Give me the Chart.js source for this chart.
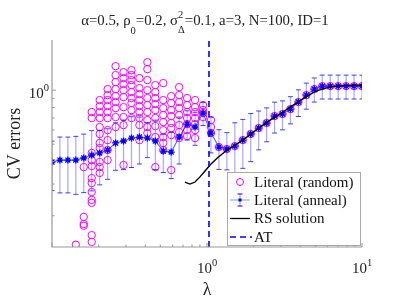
<!DOCTYPE html>
<html><head><meta charset="utf-8">
<script src="https://cdn.jsdelivr.net/npm/chart.js@4.4.1/dist/chart.umd.min.js"></script>
<style>html,body{margin:0;padding:0;background:#fff}#wrap{width:399px;height:299px}</style>
</head><body><div id="wrap"><canvas id="c" width="399" height="299"></canvas></div>
<script>
// ---- data ----
const lambdas = [0.1,0.1125,0.1266,0.1425,0.1603,0.1804,0.2031,0.2285,0.2572,0.2894,
  0.3257,0.3665,0.4125,0.4642,0.5223,0.5878,0.6614,0.7443,0.8376,0.9427,
  1.0608,1.1938,1.3434,1.5118,1.7013,1.9145,2.1544,2.4245,2.7283,3.0703,
  3.4551,3.8881,4.3755,4.9239,5.5410,6.2355,7.0170,7.8965,8.8862,10];
const annealMean = [0.398,0.408,0.408,0.408,0.419,0.435,0.447,0.464,0.508,0.521,
  0.541,0.548,0.541,0.521,0.458,0.452,0.548,0.647,0.623,0.745,
  0.577,0.482,0.470,0.488,0.527,0.570,0.615,0.656,0.717,0.736,
  0.784,0.858,0.938,1.013,1.052,1.052,1.052,1.052,1.052,1.052];
const annealStd = [0.122,0.14,0.14,0.145,0.15,0.16,0.15,0.145,0.15,0.16,
  0.17,0.16,0.12,0.16,0.11,0.13,0.16,0.12,0.13,0.11,
  0.13,0.12,0.11,0.17,0.16,0.17,0.15,0.14,0.14,0.135,
  0.135,0.145,0.155,0.155,0.16,0.16,0.16,0.16,0.16,0.16];
const randomTrials = [
  [],[],[],[0.138],
  [0.373,0.197,0.180,0.176],
  [0.755,0.699,0.447,0.408,0.378,0.324,0.304,0.271,0.245,0.236,0.156,0.143],
  [0.880,0.815,0.755,0.699,0.623,0.570,0.508,0.476,0.398,0.373,0.346],
  [1.013,0.938,0.880,0.815,0.755,0.699,0.599,0.527,0.464,0.408],
  [1.359,1.212,1.108,1.013,0.926,0.858,0.794,0.708,0.623],
  [1.259,1.166,1.080,1.0,0.914,0.804,0.708,0.639,0.383],
  [1.291,1.212,1.137,1.066,0.975,0.903,0.847,0.774,0.699],
  [1.166,1.026,0.950,0.880,0.815,0.755,0.699,0.639,0.527],
  [1.430,1.308,1.137,1.0,0.903,0.825,0.755,0.681,0.623,0.577],
  [1.066,0.975,0.903,0.836,0.774,0.699,0.631,0.548,0.373],
  [1.094,0.880,0.794,0.726,0.664,0.599,0.548,0.508,0.464],
  [0.926,0.847,0.774,0.717,0.656,0.615,0.562,0.359],
  [1.039,0.938,0.858,0.794,0.726,0.639,0.584,0.541],
  [0.903,0.825,0.755,0.699,0.647,0.599,0.555],
  [0.880,0.804,0.755,0.699,0.647,0.599,0.541],
  [0.825,0.774,0.745,0.708],
  [0.681,0.623,0.577],
  [0.482],[0.470],[0.488],[0.527],[0.570],[0.615],[0.656],[0.717],[0.736],
  [0.784],[0.858],[0.938],[1.013],[1.052],[1.052],[1.052],[1.052],[1.052],[1.052]
];
const rsLambda = [0.72,0.777,0.837,0.901,0.971,1.046,1.16,1.346,1.516,1.706,1.919,2.165,2.44,2.75,3.09,3.43,3.86,4.34,4.89,5.50,6.20,6.99,7.87,8.86,10];
const rsValue  = [0.308,0.300,0.308,0.329,0.355,0.383,0.418,0.464,0.495,0.527,0.570,0.615,0.664,0.708,0.755,0.804,0.858,0.914,0.975,1.013,1.039,1.052,1.059,1.066,1.066];
const atLambda = 1.03;
const seriesLabels = ['Literal (random)','Literal (anneal)','RS solution','AT'];
const xTickLabels = [{v:1,base:'10',exp:'0'},{v:10,base:'10',exp:'1'}];
const yTickLabels = [{v:1,base:'10',exp:'0'}];
const titleParts = ['α=0.5, ρ','0','=0.2, σ','2','Δ','=0.1, a=3, N=100, ID=1'];
const xTitle = 'λ', yTitle = 'CV errors';
const XMIN=0.1, XMAX=10, YMIN=0.134, YMAX=1.9;

// ---- build datasets ----
const randomPts = [];
randomTrials.forEach((arr,i)=>arr.forEach(v=>randomPts.push({x:lambdas[i],y:v})));
const annealPts = lambdas.map((x,i)=>({x, y:annealMean[i]}));
const rsPts = rsLambda.map((x,i)=>({x, y:rsValue[i]}));

const SERIF = '"Liberation Serif","Times New Roman",serif';
const F = px => px+'px '+SERIF;
const AX = '#9a9a9a';

function richW(ctx,segs){let w=0;for(const s of segs){ctx.font=F(s.size);const m=ctx.measureText(s.t).width;if(s.adv!==false)w+=m;}return w;}
function richDraw(ctx,segs,x,y){let cx=x;for(const s of segs){ctx.font=F(s.size);ctx.fillText(s.t,cx,y+(s.dy||0));if(s.adv!==false)cx+=ctx.measureText(s.t).width;}}

const decor = {
  id:'decor',
  beforeDatasetDraw(chart,args){
    if(args.index!==1) return;
    const ctx=chart.ctx, xs=chart.scales.x, ys=chart.scales.y, a=chart.chartArea;
    ctx.save();
    ctx.beginPath(); ctx.rect(a.left,a.top,a.right-a.left,a.bottom-a.top); ctx.clip();
    lambdas.forEach((l,i)=>{
      const px=xs.getPixelForValue(l);
      const hi=annealMean[i]+annealStd[i], lo=Math.max(annealMean[i]-annealStd[i],1e-3);
      const yt=ys.getPixelForValue(hi), yb=ys.getPixelForValue(lo);
      ctx.strokeStyle='rgba(60,60,255,0.45)'; ctx.lineWidth=1.2;
      ctx.beginPath(); ctx.moveTo(px,yt); ctx.lineTo(px,yb); ctx.stroke();
      ctx.strokeStyle='rgba(0,0,255,0.75)'; ctx.lineWidth=1;
      ctx.beginPath(); ctx.moveTo(px-2.5,yt); ctx.lineTo(px+2.5,yt);
      ctx.moveTo(px-2.5,yb); ctx.lineTo(px+2.5,yb); ctx.stroke();
    });
    ctx.restore();
  },
  afterDraw(chart){
    const ctx=chart.ctx, xs=chart.scales.x, ys=chart.scales.y, a=chart.chartArea;
    ctx.save();
    // axes
    ctx.strokeStyle=AX; ctx.lineWidth=1.2;
    ctx.beginPath(); ctx.moveTo(a.left,a.top); ctx.lineTo(a.left,a.bottom); ctx.lineTo(a.right,a.bottom); ctx.stroke();
    ctx.lineWidth=1;
    ctx.beginPath();
    for(let d=-1; d<=1; d++){
      for(let m=1;m<=9;m++){
        const v=m*Math.pow(10,d);
        if(v>=XMIN-1e-9 && v<=XMAX+1e-9){const px=xs.getPixelForValue(v);const L=m===1?4:2.5;ctx.moveTo(px,a.bottom);ctx.lineTo(px,a.bottom-L);}
        if(v>=YMIN && v<=YMAX){const py=ys.getPixelForValue(v);const L=m===1?4:2.5;ctx.moveTo(a.left,py);ctx.lineTo(a.left+L,py);}
      }
    }
    ctx.stroke();
    ctx.fillStyle='#222'; ctx.textBaseline='alphabetic';
    xTickLabels.forEach(t=>{
      const segs=[{t:t.base,size:15},{t:t.exp,size:10.5,dy:-7}];
      const w=richW(ctx,segs); const px=xs.getPixelForValue(t.v);
      richDraw(ctx,segs,px-w/2,273);
    });
    yTickLabels.forEach(t=>{
      const segs=[{t:t.base,size:15},{t:t.exp,size:10.5,dy:-7}];
      const w=richW(ctx,segs); const py=ys.getPixelForValue(t.v);
      richDraw(ctx,segs,a.left-3-w,py+8);
    });
    // axis titles
    ctx.font=F(18); ctx.textAlign='center';
    ctx.fillText(xTitle,(a.left+a.right)/2,295);
    ctx.save(); ctx.translate(20,(a.top+a.bottom)/2); ctx.rotate(-Math.PI/2);
    ctx.fillText(yTitle,0,0); ctx.restore();
    ctx.textAlign='left';
    // title
    const tsegs=[{t:titleParts[0],size:14.8},{t:titleParts[1],size:10.5,dy:9},{t:titleParts[2],size:14.8},
      {t:titleParts[3],size:10.5,dy:-7,adv:false},{t:titleParts[4],size:10.5,dy:8},{t:titleParts[5],size:14.8}];
    const tw=richW(ctx,tsegs);
    richDraw(ctx,tsegs,(a.left+a.right)/2-2-tw/2,25);
    // legend
    const lx=227, ly=172, lw=133, lh=73;
    ctx.fillStyle='#fff'; ctx.fillRect(lx,ly,lw,lh);
    ctx.strokeStyle='#a8a8a8'; ctx.lineWidth=1; ctx.strokeRect(lx+0.5,ly+0.5,lw,lh);
    const rows=[182,200,218.5,237]; const mx=240;
    ctx.strokeStyle='#ff00ff'; ctx.beginPath(); ctx.arc(mx,rows[0],3.5,0,2*Math.PI); ctx.stroke();
    ctx.strokeStyle='rgba(60,60,255,0.55)'; ctx.lineWidth=1;
    ctx.beginPath(); ctx.moveTo(230,rows[1]); ctx.lineTo(250,rows[1]); ctx.moveTo(mx,rows[1]-6); ctx.lineTo(mx,rows[1]+6); ctx.stroke();
    ctx.strokeStyle='#0000ff';
    ctx.beginPath(); ctx.moveTo(mx-2.5,rows[1]-6); ctx.lineTo(mx+2.5,rows[1]-6); ctx.moveTo(mx-2.5,rows[1]+6); ctx.lineTo(mx+2.5,rows[1]+6); ctx.stroke();
    ctx.fillStyle='#0000ff'; ctx.fillRect(mx-1.5,rows[1]-1.5,3,3);
    ctx.strokeStyle='#000'; ctx.lineWidth=1.3; ctx.beginPath(); ctx.moveTo(230,rows[2]); ctx.lineTo(250,rows[2]); ctx.stroke();
    ctx.strokeStyle='#0000ff'; ctx.lineWidth=1.5; ctx.setLineDash([6,4]); ctx.beginPath(); ctx.moveTo(230,rows[3]); ctx.lineTo(252,rows[3]); ctx.stroke(); ctx.setLineDash([]);
    ctx.fillStyle='#111'; ctx.font=F(15); ctx.textBaseline='middle';
    seriesLabels.forEach((s,i)=>ctx.fillText(s,254,rows[i]+1));
    ctx.restore();
  }
};

new Chart(document.getElementById('c'),{
  type:'line',
  data:{datasets:[
    {label:seriesLabels[0],data:randomPts,showLine:false,pointStyle:'circle',pointRadius:3.7,pointBorderWidth:1,
      pointBorderColor:'#ff00ff',pointBackgroundColor:'rgba(0,0,0,0)',borderColor:'#ff00ff',order:4},
    {label:seriesLabels[1],data:annealPts,borderColor:'rgba(30,30,255,0.7)',borderWidth:1.1,pointStyle:'star',pointRadius:3.5,
      pointBorderColor:'#0000ff',pointBackgroundColor:'#0000ff',pointBorderWidth:1.3,order:3},
    {label:seriesLabels[2],data:rsPts,borderColor:'#000',borderWidth:1.4,pointRadius:0,order:2},
    {label:seriesLabels[3],data:[{x:atLambda,y:YMIN},{x:atLambda,y:YMAX}],borderColor:'#0000ff',borderWidth:1.6,borderDash:[6,4],pointRadius:0,order:1}
  ]},
  options:{
    responsive:false, animation:false, devicePixelRatio:1, parsing:true,
    layout:{padding:{left:0,right:37,top:40,bottom:0}},
    plugins:{legend:{display:false},tooltip:{enabled:false},title:{display:false}},
    scales:{
      x:{type:'logarithmic',min:XMIN,max:XMAX,grid:{display:false},border:{display:false},ticks:{display:false},afterFit(s){s.height=52;}},
      y:{type:'logarithmic',min:YMIN,max:YMAX,grid:{display:false},border:{display:false},ticks:{display:false},afterFit(s){s.width=52;}}
    }
  },
  plugins:[decor]
});
</script></body></html>
